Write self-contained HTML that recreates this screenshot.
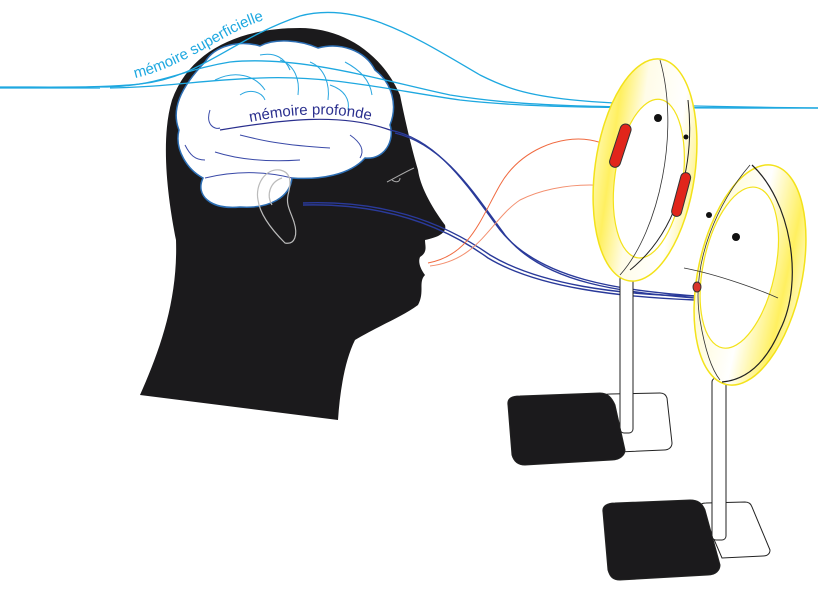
<!DOCTYPE html>
<html><head><meta charset="utf-8"><style>
html,body{margin:0;padding:0;background:#fff;width:818px;height:589px;overflow:hidden}
svg{display:block}
</style></head><body>
<svg width="818" height="589" viewBox="0 0 818 589" xmlns="http://www.w3.org/2000/svg">
<defs>
<linearGradient id="yg1" x1="0" y1="0" x2="1" y2="0">
<stop offset="0" stop-color="#fff7a0"/><stop offset="0.15" stop-color="#fff060"/><stop offset="0.4" stop-color="#fffce8"/><stop offset="0.8" stop-color="#fff"/><stop offset="1" stop-color="#fff59a"/>
</linearGradient>
<linearGradient id="yg2" x1="0" y1="0" x2="1" y2="0">
<stop offset="0" stop-color="#fffbd0"/><stop offset="0.5" stop-color="#fff"/><stop offset="0.85" stop-color="#fff060"/><stop offset="1" stop-color="#fff8b0"/>
</linearGradient>
<path id="tp1" d="M135,78 C180,68 215,40 250,25 C270,17 290,12 300,12"/>
<path id="tp2" d="M250,122 C300,112 350,110 395,128"/>
</defs>
<!-- head silhouette -->
<path fill="#1b1a1c" d="M300,28 C240,28 190,50 172,100 C160,140 168,200 176,240 C178,300 160,350 140,395 L338,420 C340,390 345,360 355,340 C380,325 400,318 418,305 C425,292 418,282 425,275 C420,268 418,262 420,257 C428,252 425,246 425,240 C440,237 447,232 445,225 C430,205 420,185 418,170 C412,150 405,120 400,95 C380,50 340,28 300,28 Z"/>
<!-- brain -->
<path fill="#fff" stroke="#2d6fb5" stroke-width="1.5" d="M205,62 C215,45 240,40 260,46 C275,38 300,40 318,48 C340,42 365,50 375,70 C392,83 398,105 390,125 C395,140 385,160 365,158 C350,175 320,180 292,178 C290,197 270,209 240,207 C210,210 195,195 203,178 C188,170 174,150 179,130 C171,110 180,88 205,62 Z"/>
<g fill="none" stroke="#2aa7e0" stroke-width="1">
<path d="M215,80 C235,70 255,75 265,90"/><path d="M240,95 C250,88 262,92 265,100"/><path d="M280,60 C295,65 300,80 298,95"/><path d="M310,62 C325,68 330,85 328,100"/><path d="M330,85 C345,90 350,100 348,110"/><path d="M345,62 C360,70 370,80 372,95"/><path d="M260,55 C275,52 285,58 290,70"/>
</g>
<g fill="none" stroke="#3a4aa8" stroke-width="1">
<path d="M210,110 C205,125 215,130 220,128"/><path d="M240,135 C260,140 280,145 330,148"/><path d="M215,152 C240,160 270,162 300,160"/><path d="M185,145 C190,155 195,160 205,160"/><path d="M350,135 C360,142 365,150 360,158"/><path d="M205,178 C230,172 260,170 292,178"/>
</g>
<!-- ear -->
<g fill="none" stroke="#bbb" stroke-width="1.2">
<path d="M280,170 C265,168 255,185 258,200 C260,215 272,230 285,243 C295,245 298,235 294,222 C290,210 286,205 288,195 C292,180 290,172 280,170 Z"/>
<path d="M282,178 C270,182 266,195 272,205"/>
</g>
<path fill="none" stroke="#aaa" stroke-width="1" d="M387,182 C395,178 405,172 414,168 M392,180 C396,183 400,182 400,178"/>
<!-- light blue lines -->
<g fill="none" stroke="#1ea8e0" stroke-width="1.3">
<path d="M0,87 C60,87 100,88 140,84 C200,78 230,40 300,16 C360,0 420,40 480,75 C530,100 560,105 818,108"/>
<path d="M100,87 C160,87 180,70 230,62 C300,55 380,80 450,95 C520,106 580,108 818,108"/>
<path d="M110,88 C170,87 200,80 260,78 C330,75 390,90 460,100 C530,108 600,108 818,108"/>
<path d="M0,88 L100,88"/>
</g>
<text font-family="Liberation Sans, sans-serif" font-size="15" fill="#1ea8e0"><textPath href="#tp1">mémoire superficielle</textPath></text>
<text font-family="Liberation Sans, sans-serif" font-size="15" fill="#2a2f8e"><textPath href="#tp2">mémoire profonde</textPath></text>
<path fill="none" stroke="#2a2f8e" stroke-width="1.2" d="M220,130 C280,120 340,112 390,130"/>
<!-- dark blue lines -->
<g fill="none" stroke="#2a3a9a" stroke-width="1.4">
<path d="M390,130 C440,140 470,190 500,230 C540,280 620,290 695,296"/>
<path d="M395,133 C445,145 475,195 505,235 C545,285 625,292 695,298"/>
<path d="M303,203 C380,200 440,220 490,255 C540,285 620,295 695,296"/>
<path d="M303,205 C380,203 440,223 488,258 C538,288 620,297 695,300"/>
</g>
<!-- orange lines -->
<g fill="none" stroke="#f06a40" stroke-width="1">
<path d="M428,263 C470,255 480,220 500,185 C520,150 560,135 590,140 C620,145 650,170 665,200"/>
<path d="M430,266 C480,260 490,220 520,200 C560,180 620,180 660,200" stroke="#f39070"/>
</g>
<!-- mirror 1 stand -->
<path d="M603,398 C603,395 606,394 610,394 L660,393 C664,393 666,395 667,398 L672,443 C672,447 669,450 664,450 L618,452 Z" fill="#fff" stroke="#222"/>
<rect x="620" y="275" width="13" height="158" rx="4" fill="#fff" stroke="#222" stroke-width="1"/>
<path d="M508,405 C507,398 512,396 520,396 L600,393 C608,393 612,398 615,405 L625,450 C625,455 620,460 612,460 L525,465 C518,465 514,462 512,455 Z" fill="#1b1a1c" stroke="#222"/>
<!-- mirror 1 -->
<g transform="rotate(8 645 170)">
<ellipse cx="645" cy="170" rx="50" ry="112" fill="url(#yg1)" stroke="#f3e21a" stroke-width="1.5"/>
<ellipse cx="650" cy="178" rx="34" ry="80" fill="#fff" stroke="#f3e21a" stroke-width="1.2"/>
</g>
<path d="M660,60 C680,130 660,230 620,275" fill="none" stroke="#333" stroke-width="0.8"/>
<path d="M688,100 C695,160 680,230 630,270" fill="none" stroke="#222" stroke-width="1"/>
<circle cx="658" cy="118" r="4" fill="#111"/><circle cx="686" cy="137" r="2.5" fill="#111"/>
<rect x="615" y="123" width="11" height="45" rx="5.5" fill="#e1251b" stroke="#333" transform="rotate(18 620 145)"/>
<rect x="676" y="172" width="10" height="45" rx="5" fill="#e1251b" stroke="#333" transform="rotate(15 681 195)"/>
<!-- mirror 2 stand -->
<path d="M700,507 C700,504 703,503 706,503 L745,502 C749,502 751,504 752,507 L770,550 C770,554 767,556 763,556 L722,558 Z" fill="#fff" stroke="#222"/>
<rect x="712" y="378" width="14" height="162" rx="4" fill="#fff" stroke="#222" stroke-width="1"/>
<path d="M603,512 C602,506 607,503 615,503 L690,500 C698,500 702,503 705,510 L720,565 C720,570 716,575 708,575 L620,580 C613,580 610,577 608,570 Z" fill="#1b1a1c" stroke="#222"/>
<!-- mirror 2 -->
<g transform="rotate(12 750 275)">
<ellipse cx="750" cy="275" rx="52" ry="112" fill="url(#yg2)" stroke="#f3e21a" stroke-width="1.5"/>
<ellipse cx="738" cy="270" rx="36" ry="82" fill="#fff" stroke="#f3e21a" stroke-width="1.2"/>
</g>
<path d="M752,165 C790,200 805,280 780,330 C765,365 745,380 722,382" fill="none" stroke="#222" stroke-width="1.2"/>
<path d="M750,165 C720,200 690,260 700,320 C705,350 712,370 720,380" fill="none" stroke="#333" stroke-width="0.8"/>
<path d="M684,268 C720,275 760,290 778,298" fill="none" stroke="#333" stroke-width="0.8"/>
<circle cx="709" cy="215" r="3" fill="#111"/><circle cx="736" cy="237" r="4" fill="#111"/>
<ellipse cx="697" cy="287" rx="4" ry="5" fill="#d9352a" stroke="#333"/>
</svg>
</body></html>
